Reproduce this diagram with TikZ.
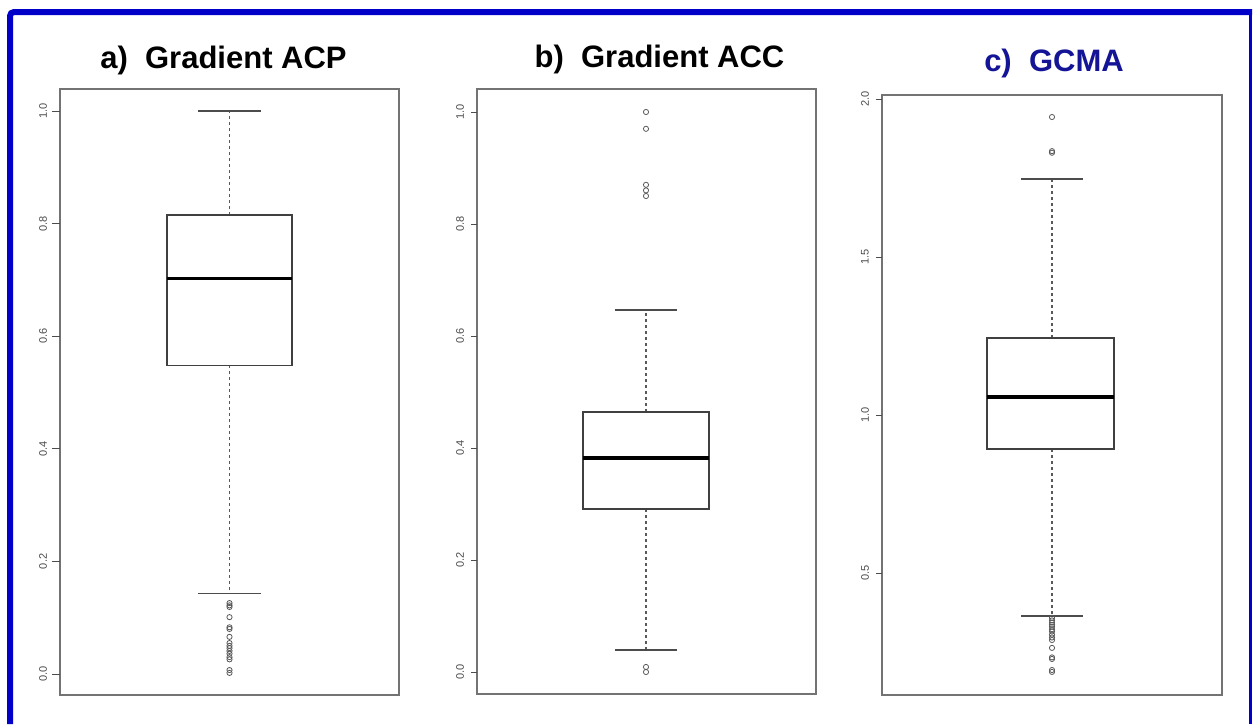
\documentclass[tikz,border=0pt]{standalone}
\usepackage{fontspec}
\setmainfont{Liberation Sans}
\definecolor{borderBlue}{RGB}{0,0,200}
\definecolor{titleBlue}{RGB}{20,20,150}
\begin{document}
\begin{tikzpicture}[x=0.5pt, y=-0.5pt]
        \tikzstyle{frameStyle} = [draw=black!55, line width=1pt]
        \tikzstyle{boxStyle} = [draw=black!75, line width=0.8pt]
        \tikzstyle{medianStyle} = [draw=black, line width=1.6pt]
        \tikzstyle{whiskerStyle} = [draw=black!65, line width=0.7pt, dash pattern=on 1.5pt off 1.5pt]
        \tikzstyle{capStyle} = [draw=black!70, line width=0.9pt]
        \tikzstyle{outlierStyle} = [circle, draw=black!65, line width=0.4pt, inner sep=0pt, minimum size=2.6pt]
        \tikzstyle{tickStyle} = [draw=black!70, line width=0.5pt]
        \tikzstyle{tickLabel} = [font=\fontsize{5.5}{6}\selectfont, text=black!70, rotate=90, inner sep=0pt]
        \tikzstyle{titleStyle} = [font=\fontsize{15.5}{18}\selectfont\bfseries, anchor=base, inner sep=0pt]
        \useasboundingbox[fill=white] (0,0) rectangle (1254,724);
        \draw[borderBlue, line width=3pt, rounded corners=2pt] (10,724) -- (10,12) -- (1252,12);
        \draw[borderBlue, line width=1.5pt] (1250.5,12) -- (1250.5,724);
        \node[titleStyle] (titleA) at (223.5,68) {a)\ \ Gradient ACP};
        \node[titleStyle] (titleB) at (659.5,67) {b)\ \ Gradient ACC};
        \node[titleStyle, text=titleBlue] (titleC) at (1054,71) {c)\ \ GCMA};
        \draw[frameStyle] (60,89) rectangle (399,695);
        \draw[frameStyle] (477,89) rectangle (816,694);
        \draw[frameStyle] (882,95) rectangle (1222,695);
        \begin{scope}[shift={(0,674)}, y=281.5pt]
        \draw[tickStyle] (52,0) -- (60,0);
        \draw[tickStyle] (52,0.2) -- (60,0.2);
        \draw[tickStyle] (52,0.4) -- (60,0.4);
        \draw[tickStyle] (52,0.6) -- (60,0.6);
        \draw[tickStyle] (52,0.8) -- (60,0.8);
        \draw[tickStyle] (52,1) -- (60,1);
        \node[tickLabel] (ya0) at (43,0) {0.0};
        \node[tickLabel] (ya1) at (43,0.2) {0.2};
        \node[tickLabel] (ya2) at (43,0.4) {0.4};
        \node[tickLabel] (ya3) at (43,0.6) {0.6};
        \node[tickLabel] (ya4) at (43,0.8) {0.8};
        \node[tickLabel] (ya5) at (43,1) {1.0};
        \draw[whiskerStyle] (229.5,0.815) -- (229.5,1.0);
        \draw[whiskerStyle] (229.5,0.548) -- (229.5,0.143);
        \draw[capStyle] (198,1.0) -- (261,1.0);
        \draw[capStyle] (198,0.143) -- (261,0.143);
        \draw[boxStyle] (167,0.548) rectangle (292,0.815);
        \draw[medianStyle] (167,0.703) -- (292,0.703);
        \node[outlierStyle] (oa1) at (229.5,0.126) {};
        \node[outlierStyle] (oa2) at (229.5,0.122) {};
        \node[outlierStyle] (oa3) at (229.5,0.119) {};
        \node[outlierStyle] (oa4) at (229.5,0.101) {};
        \node[outlierStyle] (oa5) at (229.5,0.083) {};
        \node[outlierStyle] (oa6) at (229.5,0.080) {};
        \node[outlierStyle] (oa7) at (229.5,0.066) {};
        \node[outlierStyle] (oa8) at (229.5,0.055) {};
        \node[outlierStyle] (oa9) at (229.5,0.050) {};
        \node[outlierStyle] (oa10) at (229.5,0.046) {};
        \node[outlierStyle] (oa11) at (229.5,0.041) {};
        \node[outlierStyle] (oa12) at (229.5,0.036) {};
        \node[outlierStyle] (oa13) at (229.5,0.030) {};
        \node[outlierStyle] (oa14) at (229.5,0.026) {};
        \node[outlierStyle] (oa15) at (229.5,0.007) {};
        \node[outlierStyle] (oa16) at (229.5,0.002) {};
        \end{scope}
        \begin{scope}[shift={(0,672)}, y=280pt]
        \draw[tickStyle] (471,0) -- (477,0);
        \draw[tickStyle] (471,0.2) -- (477,0.2);
        \draw[tickStyle] (471,0.4) -- (477,0.4);
        \draw[tickStyle] (471,0.6) -- (477,0.6);
        \draw[tickStyle] (471,0.8) -- (477,0.8);
        \draw[tickStyle] (471,1) -- (477,1);
        \node[tickLabel] (yb0) at (460,0) {0.0};
        \node[tickLabel] (yb1) at (460,0.2) {0.2};
        \node[tickLabel] (yb2) at (460,0.4) {0.4};
        \node[tickLabel] (yb3) at (460,0.6) {0.6};
        \node[tickLabel] (yb4) at (460,0.8) {0.8};
        \node[tickLabel] (yb5) at (460,1) {1.0};
        \draw[whiskerStyle] (646,0.464) -- (646,0.646);
        \draw[whiskerStyle] (646,0.291) -- (646,0.039);
        \draw[capStyle] (615,0.646) -- (677,0.646);
        \draw[capStyle] (615,0.039) -- (677,0.039);
        \draw[boxStyle] (583,0.291) rectangle (709,0.464);
        \draw[medianStyle] (583,0.382) -- (709,0.382);
        \node[outlierStyle] (ob1) at (646,1.0) {};
        \node[outlierStyle] (ob2) at (646,0.97) {};
        \node[outlierStyle] (ob3) at (646,0.87) {};
        \node[outlierStyle] (ob4) at (646,0.86) {};
        \node[outlierStyle] (ob5) at (646,0.85) {};
        \node[outlierStyle] (ob6) at (646,0.009) {};
        \node[outlierStyle] (ob7) at (646,0.0) {};
        \end{scope}
        \begin{scope}[shift={(0,731)}, y=158pt]
        \draw[tickStyle] (876,0.5) -- (882,0.5);
        \draw[tickStyle] (876,1.0) -- (882,1.0);
        \draw[tickStyle] (876,1.5) -- (882,1.5);
        \draw[tickStyle] (876,2.0) -- (882,2.0);
        \node[tickLabel] (yc1) at (865,0.5) {0.5};
        \node[tickLabel] (yc2) at (865,1.0) {1.0};
        \node[tickLabel] (yc3) at (865,1.5) {1.5};
        \node[tickLabel] (yc4) at (865,2.0) {2.0};
        \draw[whiskerStyle] (1052,1.244) -- (1052,1.747);
        \draw[whiskerStyle] (1052,0.892) -- (1052,0.364);
        \draw[capStyle] (1021,1.747) -- (1083,1.747);
        \draw[capStyle] (1021,0.364) -- (1083,0.364);
        \draw[boxStyle] (987,0.892) rectangle (1114,1.244);
        \draw[medianStyle] (987,1.057) -- (1114,1.057);
        \node[outlierStyle] (oc1) at (1052,1.943) {};
        \node[outlierStyle] (oc2) at (1052,1.835) {};
        \node[outlierStyle] (oc3) at (1052,1.830) {};
        \node[outlierStyle] (oc4) at (1052,0.358) {};
        \node[outlierStyle] (oc5) at (1052,0.350) {};
        \node[outlierStyle] (oc6) at (1052,0.343) {};
        \node[outlierStyle] (oc7) at (1052,0.336) {};
        \node[outlierStyle] (oc8) at (1052,0.330) {};
        \node[outlierStyle] (oc9) at (1052,0.322) {};
        \node[outlierStyle] (oc10) at (1052,0.315) {};
        \node[outlierStyle] (oc11) at (1052,0.305) {};
        \node[outlierStyle] (oc12) at (1052,0.296) {};
        \node[outlierStyle] (oc13) at (1052,0.288) {};
        \node[outlierStyle] (oc14) at (1052,0.263) {};
        \node[outlierStyle] (oc15) at (1052,0.233) {};
        \node[outlierStyle] (oc16) at (1052,0.228) {};
        \node[outlierStyle] (oc17) at (1052,0.193) {};
        \node[outlierStyle] (oc18) at (1052,0.187) {};
        \end{scope}
    \end{tikzpicture}
\end{document}
